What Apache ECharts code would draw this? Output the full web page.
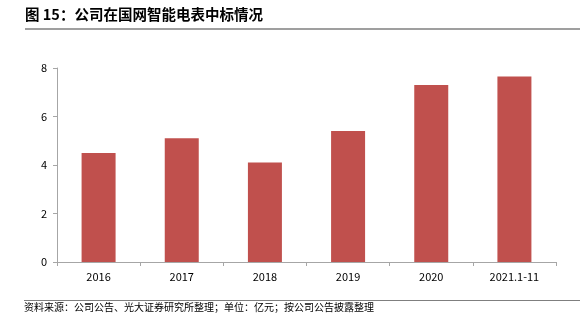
<!DOCTYPE html>
<html>
<head>
<meta charset="utf-8">
<script src="https://cdn.jsdelivr.net/npm/echarts@6/dist/echarts.min.js"></script>
<style>
html,body{margin:0;padding:0;background:#fff;}
#chart{width:580px;height:324px;}
</style>
</head>
<body>
<div id="chart"></div>
<script>
// 公司在国网智能电表中标金额（亿元）
const categories = ['2016', '2017', '2018', '2019', '2020', '2021.1-11'];
const values = [4.5, 5.1, 4.1, 5.4, 7.3, 7.65];
const yTicks = [0, 2, 4, 6, 8];

const titleText = '图 15：公司在国网智能电表中标情况';
const sourceText = '资料来源：公司公告、光大证券研究所整理；单位：亿元；按公司公告披露整理';

const font = '"Noto Sans CJK SC", "Noto Sans", sans-serif';
const chart = echarts.init(document.getElementById('chart'), null, {renderer: 'canvas'});

chart.setOption({
  animation: false,
  backgroundColor: '#fff',
  grid: {left: 57, right: 24, top: 68, bottom: 62, containLabel: false},
  xAxis: {
    type: 'category',
    data: categories,
    axisLine: {lineStyle: {color: '#a6a6a6', width: 1}},
    axisTick: {show: true, length: 4, lineStyle: {color: '#a6a6a6'}},
    axisLabel: {color: '#000', fontSize: 11, fontFamily: font, margin: 9}
  },
  yAxis: {
    type: 'value',
    min: yTicks[0],
    max: yTicks[yTicks.length - 1],
    interval: 2,
    axisLine: {show: true, lineStyle: {color: '#a6a6a6', width: 1}},
    axisTick: {show: true, length: 4, lineStyle: {color: '#a6a6a6'}},
    splitLine: {show: false},
    axisLabel: {color: '#000', fontSize: 11, fontFamily: font, margin: 10}
  },
  series: [{
    type: 'bar',
    data: values,
    barWidth: 34,
    itemStyle: {color: '#c0504d'}
  }],
  graphic: [
    {type: 'text', left: 25, top: 7, style: {text: titleText, font: 'bold 14.5px ' + font, fill: '#000'}},
    {type: 'line', shape: {x1: 25, y1: 29, x2: 580, y2: 29}, style: {stroke: '#7f7f7f', lineWidth: 1.5}},
    {type: 'line', shape: {x1: 24, y1: 300.5, x2: 580, y2: 300.5}, style: {stroke: '#7f7f7f', lineWidth: 1}},
    {type: 'text', left: 24, top: 302, style: {text: sourceText, font: '10px ' + font, fill: '#000'}}
  ]
});
</script>
</body>
</html>
